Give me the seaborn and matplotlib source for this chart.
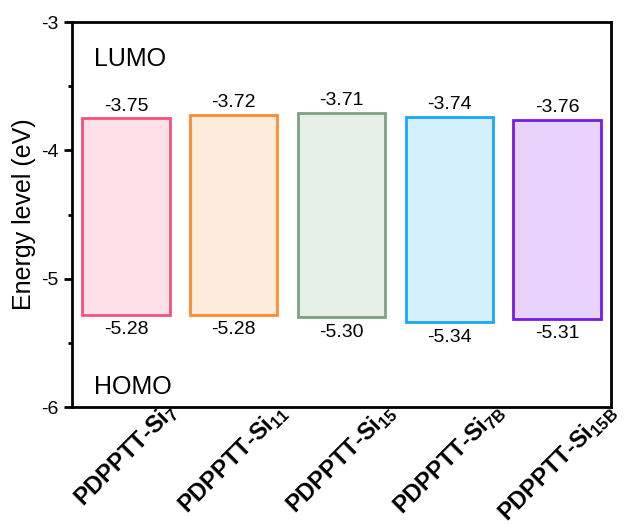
import numpy as np
import pandas as pd
import matplotlib
matplotlib.use('Agg')
import matplotlib.pyplot as plt
import seaborn as sns

# Dados
polimeros = ['PDPPTT-Si$_\\mathbf{7}$', 'PDPPTT-Si$_\\mathbf{11}$', 'PDPPTT-Si$_\\mathbf{15}$',
             'PDPPTT-Si$_\\mathbf{7B}$', 'PDPPTT-Si$_\\mathbf{15B}$']
lumo = [-3.75, -3.72, -3.71, -3.74, -3.76]
homo = [-5.28, -5.28, -5.30, -5.34, -5.31]
cores_borda = ['#F5507A', '#FF8A2A', '#7BA382', '#17A8FF', '#7A1AE6']
cores_fundo = ['#FFE0E8', '#FDEBDB', '#E5EFE6', '#D4F0FC', '#E8D3FC']

df = pd.DataFrame({'Polimero': polimeros, 'LUMO': lumo, 'HOMO': homo})
df['Gap'] = df['LUMO'] - df['HOMO']

sns.set_style('ticks')
plt.rcParams['font.family'] = ['Liberation Sans', 'DejaVu Sans']
plt.rcParams['mathtext.fontset'] = 'custom'
plt.rcParams['mathtext.rm'] = 'Liberation Sans'
plt.rcParams['mathtext.bf'] = 'Liberation Sans:bold'
plt.rcParams['axes.unicode_minus'] = False
for k in ['text.color', 'axes.labelcolor', 'xtick.color', 'ytick.color']:
    plt.rcParams[k] = 'black'

fig = plt.figure(figsize=(6.25, 5.29), dpi=100)
ax = fig.add_axes([0.1152, 0.2306, 0.8624, 0.7274])

sns.barplot(data=df, x='Polimero', y='Gap', bottom=df['HOMO'].values, width=0.81,
            color='white', saturation=1, linewidth=2, ax=ax, errorbar=None)

for p, fc, ec in zip(ax.patches, cores_fundo, cores_borda):
    p.set_facecolor(fc)
    p.set_edgecolor(ec)

# Rótulos dos valores
for i, (l, h) in enumerate(zip(lumo, homo)):
    ax.text(i, l + 0.03, f'{l:.2f}', ha='center', va='bottom', fontsize=14)
    ax.text(i, h - 0.05, f'{h:.2f}', ha='center', va='top', fontsize=14)

ax.text(0.04, 0.885, 'LUMO', transform=ax.transAxes, fontsize=18)
ax.text(0.04, 0.035, 'HOMO', transform=ax.transAxes, fontsize=18)

ax.set_ylim(-6, -3)
ax.set_xlim(-0.5, 4.5)
ax.set_yticks([-6, -5, -4, -3])
ax.set_yticklabels(['-6', '-5', '-4', '-3'])
ax.set_yticks([-5.5, -4.5, -3.5], minor=True)
ax.tick_params(axis='y', which='major', length=6, width=2, labelsize=14)
ax.tick_params(axis='y', which='minor', length=3, width=2)
ax.tick_params(axis='x', length=0, pad=-6)
plt.setp(ax.get_xticklabels(), rotation=45, fontsize=17, fontweight='bold')

ax.set_xlabel('')
ax.set_ylabel('Energy level (eV)', fontsize=18)
for s in ax.spines.values():
    s.set_linewidth(2)
    s.set_color('black')

fig.savefig('out.png', dpi=100)
